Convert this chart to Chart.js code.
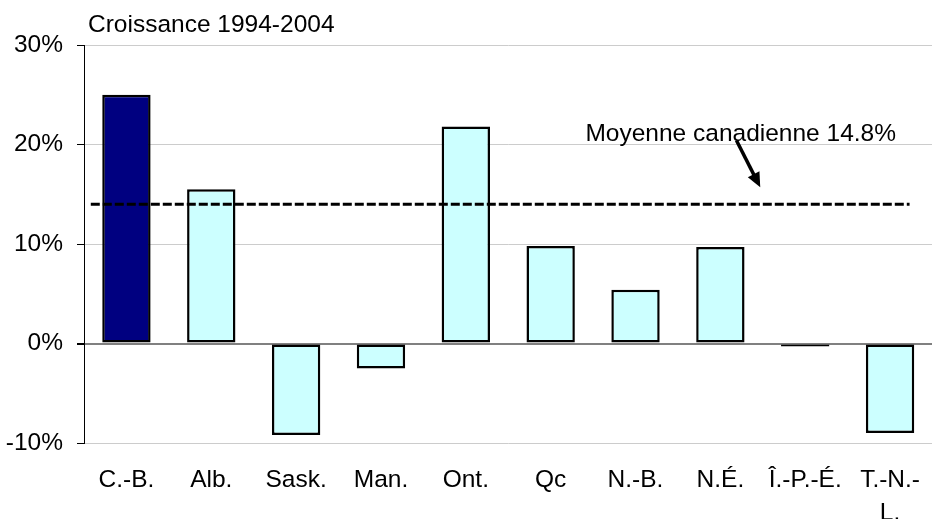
<!DOCTYPE html>
<html>
<head>
<meta charset="utf-8">
<script src="https://cdn.jsdelivr.net/npm/chart.js@4.4.1/dist/chart.umd.min.js"></script>
<style>
    html, body { margin: 0; padding: 0; background: #fff; overflow: hidden; }
    #wrap { width: 940px; height: 519px; }
</style>
</head>
<body>
<div id="wrap"><canvas id="growthChart" width="940" height="519"></canvas></div>
<script>
// Données
const provinces = ['C.-B.', 'Alb.', 'Sask.', 'Man.', 'Ont.', 'Qc', 'N.-B.', 'N.É.', 'Î.-P.-É.', ['T.-N.-', 'L.']];
const croissance = [25.0, 15.5, -9.2, -2.5, 21.8, 9.8, 5.4, 9.7, -0.3, -9.0];
const couleurs = ['#000080', '#CCFFFF', '#CCFFFF', '#CCFFFF', '#CCFFFF', '#CCFFFF', '#CCFFFF', '#CCFFFF', '#CCFFFF', '#CCFFFF'];
const yTicks = [-10, 0, 10, 20, 30];
const moyenneLigne = 14.0;
const moyenneTexte = 'Moyenne canadienne 14.8%';
const titre = 'Croissance 1994-2004';

const FONT = '"Liberation Sans", Arial, sans-serif';
const TAILLE = 24.5;

// Plugin : titre, ligne de moyenne pointillée, flèche et étiquette
const annotations = {
    id: 'annotations',
    afterDatasetsDraw(chart) {
        const ctx = chart.ctx;
        const x = chart.scales.x;
        const y = chart.scales.y;
        ctx.save();

        // titre
        ctx.fillStyle = '#000';
        ctx.font = TAILLE + 'px ' + FONT;
        ctx.textAlign = 'left';
        ctx.textBaseline = 'alphabetic';
        ctx.fillText(titre, 88, 32);

        // ligne moyenne
        const yAvg = y.getPixelForValue(moyenneLigne);
        ctx.strokeStyle = '#000';
        ctx.lineWidth = 3;
        ctx.setLineDash([9, 3]);
        ctx.beginPath();
        ctx.moveTo(x.getPixelForValue(-0.42), yAvg);
        ctx.lineTo(x.getPixelForValue(9.23), yAvg);
        ctx.stroke();
        ctx.setLineDash([]);

        // flèche
        const x1 = x.getPixelForValue(7.19), y1 = y.getPixelForValue(20.4);
        const x2 = x.getPixelForValue(7.47), y2 = y.getPixelForValue(15.7);
        const ang = Math.atan2(y2 - y1, x2 - x1);
        ctx.lineWidth = 3.5;
        ctx.beginPath();
        ctx.moveTo(x1, y1);
        ctx.lineTo(x2 - 10 * Math.cos(ang), y2 - 10 * Math.sin(ang));
        ctx.stroke();
        ctx.beginPath();
        ctx.moveTo(x2, y2);
        ctx.lineTo(x2 - 16 * Math.cos(ang - 0.42), y2 - 16 * Math.sin(ang - 0.42));
        ctx.lineTo(x2 - 16 * Math.cos(ang + 0.42), y2 - 16 * Math.sin(ang + 0.42));
        ctx.closePath();
        ctx.fill();

        // étiquette
        ctx.textAlign = 'center';
        ctx.fillText(moyenneTexte, x.getPixelForValue(7.24), y.getPixelForValue(20.35));
        ctx.restore();
    }
};

new Chart(document.getElementById('growthChart'), {
    type: 'bar',
    data: {
        labels: provinces,
        datasets: [{
            data: croissance,
            backgroundColor: couleurs,
            borderColor: '#000',
            borderWidth: 2.5,
            borderSkipped: false,
            barPercentage: 0.57,
            categoryPercentage: 1
        }]
    },
    options: {
        responsive: false,
        animation: false,
        layout: { padding: { top: 45, right: 0, left: 0, bottom: 0 } },
        plugins: {
            legend: { display: false },
            tooltip: { enabled: false }
        },
        scales: {
            x: {
                grid: { display: false, drawTicks: false },
                border: { display: false },
                ticks: {
                    color: '#000',
                    padding: 20,
                    maxRotation: 0,
                    autoSkip: false,
                    font: { family: FONT, size: TAILLE, lineHeight: 1.38 }
                },
                afterFit(scale) { scale.height = 76; }
            },
            y: {
                min: -10,
                max: 30,
                afterBuildTicks(scale) { scale.ticks = yTicks.map(v => ({ value: v })); },
                grid: {
                    color: ctx => ctx.tick && ctx.tick.value === 0 ? '#808080' : '#cccccc',
                    lineWidth: ctx => ctx.tick && ctx.tick.value === 0 ? 2 : 1,
                    tickColor: '#000',
                    tickLength: 7
                },
                border: { color: '#000', width: 1 },
                ticks: {
                    color: '#000',
                    padding: 14,
                    font: { family: FONT, size: TAILLE },
                    callback: v => v + '%'
                },
                afterFit(scale) { scale.width = 84; }
            }
        }
    },
    plugins: [annotations]
});
</script>
</body>
</html>
